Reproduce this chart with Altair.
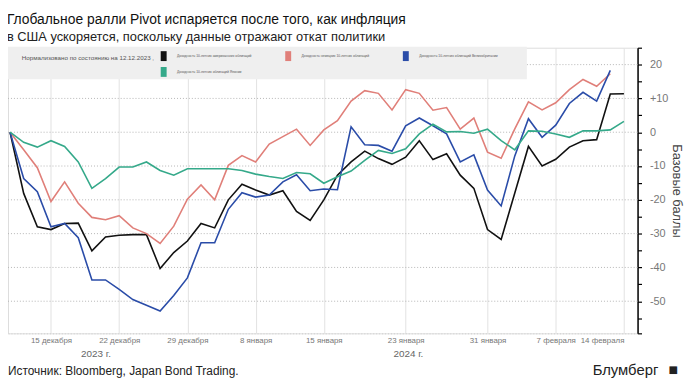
import altair as alt
import pandas as pd

# ---- data (index = trading day since 12.12.2023) ----
series_names = [
    "Доходность 10-летних американских облигаций",
    "Доходность немецких 10-летних облигаций",
    "Доходность 10-летних облигаций Великобритании",
    "Доходность 10-летних облигаций Японии",
]
series_colors = ["#111111", "#e07f79", "#2a4ca8", "#35a98a"]

us = [0, -18.1, -28, -28.8, -27, -26.9, -35.1, -31, -30.5, -30.3, -30.3, -40.3, -35.6, -32.2,
      -27, -28.3, -20, -15.4, -17.1, -18.6, -17.3, -23.4, -26.1, -20, -12.7, -8.8, -5.6, -7.8,
      -9.5, -7.4, -2.5, -8.1, -6.4, -12.7, -16.6, -28.8, -31.7, -18, -4.2, -10, -8, -4.4, -2.5,
      -2.2, 11.3, 11.4]
de = [0, -5.2, -10.5, -20.5, -14.7, -21, -25.2, -25.9, -24.7, -28.3, -30, -32.9, -27.8, -19.8,
      -15.6, -20, -9.8, -6.9, -8.8, -3.5, -1.3, 0.9, -3.9, 0.7, 3.4, 9.2, 12.3, 11.5, 6.6, 12.6,
      11.5, 6.5, 7.3, 0.9, 4.2, -5.9, -7.7, 1, 9, 6.6, 8.7, 12.6, 15.6, 13.6, 17.3, None]
uk = [0, -13.7, -17.6, -28, -27, -31.2, -43.7, -43.7, -46.5, -49.5, -51.2, -52.9, -48.3, -43.1,
      -32.7, -32.7, -22.8, -17.9, -19.2, -18.6, -14.7, -12.6, -17.3, -16.8, -17, 1.6, -3.7, -3.9,
      -5.6, 1.9, 4.2, 1.9, -0.5, -8.8, -6.7, -17.1, -21.8, -7, 4, -1.5, 2.1, 8.5, 11.8, 9.2, 18.3,
      None]
jp = [0, -3, -4.4, -2.5, -4.2, -8.8, -16.6, -13.7, -10.3, -10.3, -8.8, -11.3, -12.7, -10.8,
      -10.8, -10.8, -10.8, -11.3, -12.4, -13.1, -13.7, -11.9, -12.3, -15.1, -13.2, -11.5, -8.3,
      -5.4, -6.3, -4.9, -0.5, 2.4, 0.1, 0.2, -0.3, 0.9, -2.5, -5.2, 0.4, 0.3, -0.5, -1.5, 0.4,
      0.4, 0.7, 3.2]

x_tick_index = [3, 8, 13, 18, 23, 29, 35, 40, 45]
x_tick_labels = ["15 декабря", "22 декабря", "29 декабря", "8 января", "15 января",
                 "23 января", "31 января", "7 февраля", "14 февраля"]
year_index = [6.3, 29.2]
year_labels = ["2023 г.", "2024 г."]
y_grid_values = [20, 10, 0, -10, -20, -30, -40, -50]
y_tick_values = [25, 20, 15, 10, 5, 0, -5, -10, -15, -20, -25, -30, -35, -40, -45, -50, -55, -59.5]

rows = []
for name, vals in zip(series_names, [us, de, uk, jp]):
    for i, v in enumerate(vals):
        if v is not None:
            rows.append({"i": i, "v": v, "s": name})
df = pd.DataFrame(rows)

W, H = 637, 289
xdom = [-0.15, 46]
ydom = [-59.5, 25]

label_expr = "".join(
    f"datum.value == {k} ? '{t}' : " for k, t in zip(x_tick_index, x_tick_labels)
) + "''"

xscale = alt.Scale(domain=xdom, nice=False, zero=False)
yscale = alt.Scale(domain=ydom, nice=False, zero=False)

yaxis = alt.Axis(orient="right", values=y_tick_values, grid=False,
                 labelExpr="datum.value == 10 ? '+10' : (datum.value % 10 == 0 ? toString(datum.value) : '')",
                 domainColor="#000000", domainWidth=1.5, tickColor="#000000",
                 tickSize=4, tickWidth=1.2, labelColor="#777777", labelFontSize=11,
                 labelPadding=8, labelOverlap=False, labelFlush=False,
                 titleAngle=90, titleFontSize=13, titleFontWeight="normal",
                 titleColor="#444444", titlePadding=2)

grid = alt.Chart(pd.DataFrame({"g": y_grid_values})).mark_rule(
    color="#b5b5b5", strokeDash=[1, 2], strokeWidth=1
).encode(y=alt.Y("g:Q", scale=yscale, title="Базовые баллы", axis=yaxis))

legend_box = alt.Chart(pd.DataFrame({"a": [0]})).mark_rect(color="#efefef").encode(
    x=alt.value(0), x2=alt.value(525), y=alt.value(-1), y2=alt.value(32)
)

legend_note = alt.Chart(pd.DataFrame({"t": ["Нормализовано по состоянию на 12.12.2023  ,"]})).mark_text(
    fontSize=6.3, color="#555555", align="left", baseline="middle"
).encode(x=alt.value(14), y=alt.value(10), text="t:N")

lines = alt.Chart(df).mark_line(strokeWidth=1.6).encode(
    x=alt.X("i:Q", scale=xscale, title=None,
            axis=alt.Axis(values=x_tick_index, labelExpr=label_expr, grid=True,
                          gridColor="#e2e2e2", gridWidth=1, ticks=False,
                          domainColor="#cccccc", domainDash=[1, 2],
                          labelFontSize=8, labelColor="#777777", labelPadding=3,
                          labelOverlap=False, labelFlush=False,
                          labelAlign=alt.condition("datum.value == 45",
                                                   alt.value("right"), alt.value("center")))),
    y=alt.Y("v:Q", scale=yscale, title="Базовые баллы", axis=yaxis),
    color=alt.Color("s:N", scale=alt.Scale(domain=series_names, range=series_colors),
                    legend=alt.Legend(orient="none", legendX=151, legendY=2, direction="horizontal",
                                      columns=3, title=None, padding=0,
                                      labelFontSize=3.4, labelColor="#555555", labelLimit=300,
                                      symbolType="M-0.3,-0.7H0.3V0.7H-0.3Z", symbolSize=100,
                                      symbolStrokeWidth=3,
                                      columnPadding=29, rowPadding=-12, labelOffset=7)),
    order="i:Q",
)

years = alt.Chart(pd.DataFrame({"i": year_index, "t": year_labels})).mark_text(
    fontSize=10, color="#666666", baseline="middle"
).encode(x=alt.X("i:Q", scale=xscale), y=alt.value(310), text="t:N")

footer_df = pd.DataFrame({"t": ["Источник: Bloomberg, Japan Bond Trading."]})
source = alt.Chart(footer_df).mark_text(
    fontSize=12, color="#222222", align="left", baseline="middle"
).encode(x=alt.value(0), y=alt.value(327), text="t:N")

brand = alt.Chart(pd.DataFrame({"t": ["Блумберг"]})).mark_text(
    fontSize=15, color="#222222", align="right", baseline="middle"
).encode(x=alt.value(658), y=alt.value(326), text="t:N")

icon = alt.Chart(pd.DataFrame({"t": ["■"]})).mark_text(
    fontSize=16, color="#222222", align="center", baseline="middle"
).encode(x=alt.value(673), y=alt.value(326), text="t:N")

chart = alt.layer(grid, legend_box, legend_note, lines, years, source, brand, icon).properties(
    width=W, height=H,
    title=alt.TitleParams(
        text="Глобальное ралли Pivot испаряется после того, как инфляция",
        subtitle="в США ускоряется, поскольку данные отражают откат политики",
        anchor="start", fontSize=14, fontWeight="normal", color="#111111",
        subtitleFontSize=13, subtitleColor="#222222", subtitlePadding=4, offset=-2,
    ),
    autosize=alt.AutoSizeParams(type="none"),
    padding={"left": 0, "top": 38, "right": 49, "bottom": 43},
).configure_view(stroke=None).configure(font="Liberation Sans")

chart.save("out.html", embed_options={"renderer": "svg", "actions": False})
